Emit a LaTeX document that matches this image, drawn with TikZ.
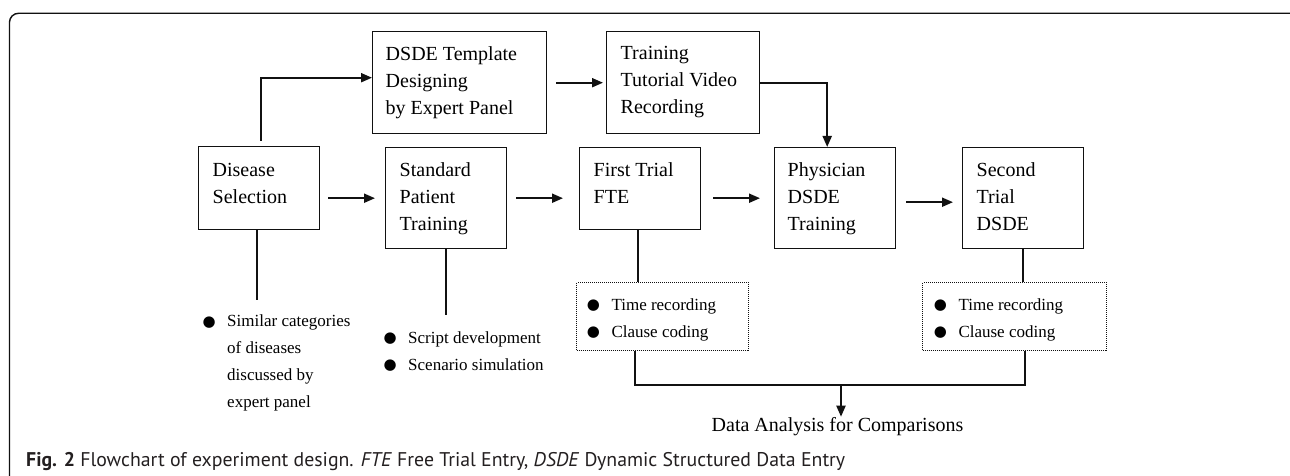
\documentclass[tikz,border=0pt]{standalone}
\usepackage{fontspec}
\setmainfont{Liberation Serif}
\newfontfamily\capfont{PT Sans}
\newfontfamily\symfont{DejaVu Sans}
\usetikzlibrary{arrows.meta,calc}
\definecolor{ink}{HTML}{111111}
\definecolor{capgray}{HTML}{231F20}
% box text: width, height, left pad, first baseline, content
\newcommand\bx[5]{\parbox[t][#2pt][t]{#1pt}{\raggedright\leftskip=#3pt\relax\rule{0pt}{#4pt}#5}}
\newcommand\blt{\makebox[22.6pt][l]{\makebox[9.2pt][c]{\raisebox{0.5pt}{\symfont\fontsize{15}{15}\selectfont ●}}}}
\begin{document}
\begin{tikzpicture}[x=1pt,y=-1pt,
  box/.style={draw=ink, line width=1.4pt, inner sep=0pt, anchor=north west, font=\fontsize{20}{27}\selectfont},
  dbox/.style={draw=ink, line width=1pt, dash pattern=on 1pt off 1pt, inner sep=0pt, anchor=north west, font=\fontsize{17}{27}\selectfont},
  lst/.style={inner sep=0pt, anchor=base west, font=\fontsize{17}{27}\selectfont},
  arr/.style={draw=ink, line width=2pt, -{Triangle[length=11pt,width=9pt]}},
  ln/.style={draw=ink, line width=2pt}]
\useasboundingbox (0,0) rectangle (1290,476);
\begin{scope}
  \clip (0,0) rectangle (1290,476);
  \draw[ink, line width=1.4pt, rounded corners=9pt] (9.5,13.3) rectangle (1300,500);
\end{scope}

% main boxes
\node[box] (ds) at (198,146) {\bx{121}{83}{14}{30}{Disease\\Selection}};
\node[box] (dt) at (372,31) {\bx{174}{102}{13}{29}{DSDE Template\\Designing\\by Expert Panel}};
\node[box] (tv) at (606,31) {\bx{153}{102}{14}{28}{Training\\Tutorial Video\\Recording}};
\node[box] (sp) at (385,147) {\bx{121}{101}{14}{29}{Standard\\Patient\\Training}};
\node[box] (ft) at (579,147) {\bx{121}{82}{14}{29}{First Trial\\FTE}};
\node[box] (ph) at (774,147) {\bx{121}{101}{13}{29}{Physician\\DSDE\\Training}};
\node[box] (st) at (962,147) {\bx{121}{101}{14}{29}{Second\\Trial\\DSDE}};

% dotted boxes
\node[dbox] (db1) at (576,282) {\bx{172}{68}{12.4}{27.5}{\blt Time recording\\\blt Clause coding}};
\node[dbox] (db2) at (922,282) {\bx{184}{68}{13.4}{27.5}{\blt Time recording\\\blt Clause coding}};

% bullet lists
\node[lst] (l1) at (204.4,326.7) {\parbox[t]{170pt}{\raggedright\blt Similar categories\\\hspace*{22.6pt}of diseases\\\hspace*{22.6pt}discussed by\\\hspace*{22.6pt}expert panel}};
\node[lst] (l2) at (385.4,343) {\parbox[t]{170pt}{\raggedright\blt Script development\\\blt Scenario simulation}};

% result text
\node[inner sep=0pt, anchor=base, font=\fontsize{20}{24}\selectfont] (da) at (837.5,431) {Data Analysis for Comparisons};

% caption
\node[inner sep=0pt, anchor=base west, text=capgray] (cap) at (26,466) {\resizebox{819pt}{!}{\capfont\fontsize{16}{18}\selectfont\textbf{Fig. 2} Flowchart of experiment design. \textit{FTE} Free Trial Entry, \textit{DSDE} Dynamic Structured Data Entry}};

% connectors
\draw[arr] ([xshift=2pt,yshift=5pt]ds.north) |- ([yshift=5pt]dt.west);
\draw[arr] ([xshift=8pt]ds.east |- sp.west) -- ([xshift=-10pt]sp.west);
\draw[arr] ([xshift=9pt]dt.east) -- ([xshift=-3pt]tv.west);
\draw[arr] (tv.east) -| ([xshift=-8pt]ph.north);
\draw[arr] ([xshift=9pt]sp.east) -- ([xshift=-16pt]ft.west |- sp.east);
\draw[arr] ([xshift=12pt]ft.east |- ph.west) -- ([xshift=-14pt]ph.west);
\draw[arr] ([xshift=10pt,yshift=-4pt]ph.east) -- ([xshift=-9pt,yshift=-4pt]st.west);

\coordinate (e1) at (257,300);
\coordinate (e2) at (446,315);
\coordinate (jn) at (841,385);
\draw[ln] (ds.south -| e1) -- (e1);
\draw[ln] (sp.south -| e2) -- (e2);
\draw[ln] ([xshift=-2pt]ft.south) -- ([xshift=-2pt]ft.south |- db1.north);
\draw[ln] (st.south) -- (st.south |- db2.north);
\draw[ln] ([xshift=-5pt]ft.south |- db1.south) |- (jn) -| ([xshift=1.5pt]st.south |- db2.south);
\draw[arr] (jn) -- (jn |- da.north);
\end{tikzpicture}
\end{document}
